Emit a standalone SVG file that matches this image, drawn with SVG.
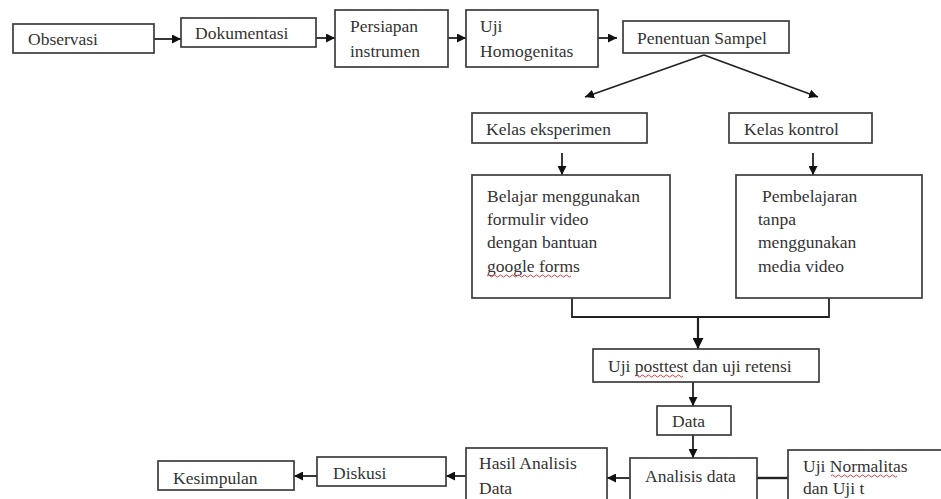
<svg xmlns="http://www.w3.org/2000/svg" width="941" height="499" viewBox="0 0 941 499">
<style>
.box{fill:#fff;stroke:#3c3c3c;stroke-width:1.7}
.t{font-size:17.5px;fill:#333}
.c{fill:none;stroke:#222;stroke-width:1.8}
.sq{fill:none;stroke:#d04040;stroke-width:1}
</style>
<defs>
<marker id="ah" viewBox="0 0 10 10" refX="10" refY="5" markerWidth="5" markerHeight="5" orient="auto" markerUnits="strokeWidth">
<path d="M0,0 L10,5 L0,10 z" fill="#111"/>
</marker>
</defs>
<rect width="941" height="499" fill="#fff"/>
<g id="connectors">
<line class="c" x1="154" y1="39" x2="181" y2="39" marker-end="url(#ah)"/>
<line class="c" x1="316" y1="38" x2="335" y2="38" marker-end="url(#ah)"/>
<line class="c" x1="448" y1="38" x2="466" y2="38" marker-end="url(#ah)"/>
<line class="c" x1="598" y1="38" x2="617" y2="38" marker-end="url(#ah)"/>
<line class="c" x1="704" y1="55" x2="585" y2="97" marker-end="url(#ah)"/>
<line class="c" x1="704" y1="55" x2="818" y2="97" marker-end="url(#ah)"/>
<line class="c" x1="562" y1="153" x2="562" y2="175" marker-end="url(#ah)"/>
<line class="c" x1="813" y1="153" x2="813" y2="175" marker-end="url(#ah)"/>
<polyline class="c" points="572,298 572,317 829,317 829,298"/>
<line class="c" x1="698" y1="317" x2="698" y2="349" marker-end="url(#ah)" style="stroke-width:2.2"/>
<line class="c" x1="693" y1="382" x2="693" y2="406" marker-end="url(#ah)"/>
<line class="c" x1="693" y1="435" x2="693" y2="458" marker-end="url(#ah)"/>
<line class="c" x1="757" y1="478" x2="788" y2="478" style="stroke-width:2.4"/>
<line class="c" x1="630" y1="478" x2="607" y2="478" marker-end="url(#ah)"/>
<line class="c" x1="466" y1="476" x2="446" y2="476" marker-end="url(#ah)"/>
<line class="c" x1="317" y1="476" x2="294" y2="476" marker-end="url(#ah)"/>
</g>
<g font-family="'Liberation Serif', 'Times New Roman', 'DejaVu Serif', serif">
<g id="observasi">
<rect class="box" x="13" y="24" width="141" height="29"/>
<text class="t" x="28" y="45">Observasi</text>
</g>
<g id="dokumentasi">
<rect class="box" x="181" y="18" width="135" height="29"/>
<text class="t" x="195" y="39">Dokumentasi</text>
</g>
<g id="persiapan">
<rect class="box" x="335" y="10" width="113" height="57"/>
<text class="t" x="350" y="32">Persiapan</text>
<text class="t" x="350" y="57">instrumen</text>
</g>
<g id="homogenitas">
<rect class="box" x="466" y="10" width="132" height="57"/>
<text class="t" x="480" y="32">Uji</text>
<text class="t" x="480" y="57">Homogenitas</text>
</g>
<g id="penentuan">
<rect class="box" x="623" y="21" width="166" height="32"/>
<text class="t" x="637" y="44">Penentuan Sampel</text>
</g>
<g id="eksperimen">
<rect class="box" x="472" y="113" width="175" height="30"/>
<text class="t" x="486" y="135">Kelas eksperimen</text>
</g>
<g id="kontrol">
<rect class="box" x="729" y="113" width="143" height="30"/>
<text class="t" x="744" y="135">Kelas kontrol</text>
</g>
<g id="belajar">
<rect class="box" x="472" y="175" width="198" height="123"/>
<text class="t" x="487" y="202">Belajar menggunakan</text>
<text class="t" x="487" y="225">formulir video</text>
<text class="t" x="487" y="248">dengan bantuan</text>
<text class="t" x="487" y="272">google forms</text>
<path class="sq" d="M487,276 q1.5,-2 3,0 t3,0 t3,0 t3,0 t3,0 t3,0 t3,0 t3,0 t3,0 t3,0 t3,0 t3,0 t3,0 t3,0 t3,0 t3,0 t3,0 t3,0 t3,0 t3,0 t3,0 t3,0 t3,0 t3,0 t3,0 t3,0 t3,0 t3,0"/>
</g>
<g id="pembelajaran">
<rect class="box" x="736" y="175" width="186" height="123"/>
<text class="t" x="762" y="202">Pembelajaran</text>
<text class="t" x="758" y="225">tanpa</text>
<text class="t" x="758" y="248">menggunakan</text>
<text class="t" x="758" y="272">media video</text>
</g>
<g id="posttest">
<rect class="box" x="593" y="349" width="226" height="33"/>
<text class="t" x="608" y="372">Uji posttest dan uji retensi</text>
<path class="sq" d="M635,376 q1.5,-2 3,0 t3,0 t3,0 t3,0 t3,0 t3,0 t3,0 t3,0 t3,0 t3,0 t3,0 t3,0 t3,0 t3,0 t3,0 t3,0"/>
</g>
<g id="data">
<rect class="box" x="657" y="406" width="74" height="29"/>
<text class="t" x="672" y="427">Data</text>
</g>
<g id="analisis">
<rect class="box" x="630" y="458" width="127" height="50"/>
<text class="t" x="645" y="482">Analisis data</text>
</g>
<g id="normalitas">
<rect class="box" x="788" y="450" width="160" height="60"/>
<text class="t" x="803" y="472">Uji Normalitas</text>
<text class="t" x="803" y="494">dan Uji t</text>
<path class="sq" d="M831,476 q1.5,-2 3,0 t3,0 t3,0 t3,0 t3,0 t3,0 t3,0 t3,0 t3,0 t3,0 t3,0 t3,0 t3,0 t3,0 t3,0 t3,0 t3,0 t3,0 t3,0 t3,0 t3,0 t3,0"/>
</g>
<g id="hasil">
<rect class="box" x="466" y="448" width="141" height="60"/>
<text class="t" x="479" y="469">Hasil Analisis</text>
<text class="t" x="479" y="494">Data</text>
</g>
<g id="diskusi">
<rect class="box" x="317" y="457" width="129" height="29"/>
<text class="t" x="333" y="479">Diskusi</text>
</g>
<g id="kesimpulan">
<rect class="box" x="158" y="461" width="136" height="29"/>
<text class="t" x="173" y="484">Kesimpulan</text>
</g>
</g>
</svg>
